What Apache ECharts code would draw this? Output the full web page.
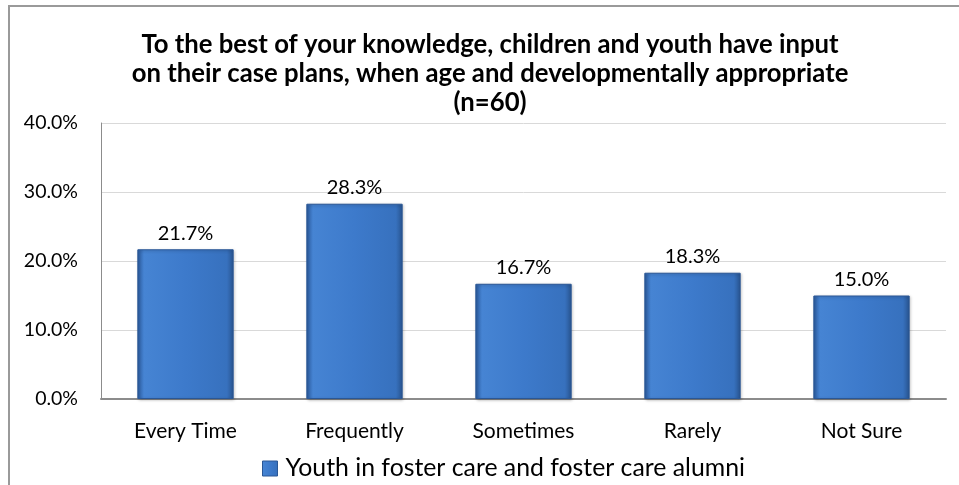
<!DOCTYPE html>
<html>
<head>
<meta charset="utf-8">
<script src="https://cdn.jsdelivr.net/npm/echarts@6/dist/echarts.min.js"></script>
<style>
  html, body { margin: 0; padding: 0; background: #ffffff; }
  #frame { position: absolute; left: 8px; top: 5px; width: 960px; height: 490px;
           border-left: 2px solid #9a9a9a; border-top: 2px solid #9a9a9a; box-sizing: border-box; }
  #chart { position: absolute; left: 0; top: 0; width: 959px; height: 485px; }
</style>
</head>
<body>
<div id="frame"></div>
<div id="chart"></div>
<script>
// Survey responses (percent of respondents)
const categories = ['Every Time', 'Frequently', 'Sometimes', 'Rarely', 'Not Sure'];
const youthValues = [21.7, 28.3, 16.7, 18.3, 15.0];
const seriesName = 'Youth in foster care and foster care alumni';
const titleLines = [
  'To the best of your knowledge, children and youth have input',
  'on their case plans, when age and developmentally appropriate',
  '(n=60)'
];
const yTicks = [0, 10, 20, 30, 40];

const FONT = 'Lato, "Open Sans", sans-serif';

const barFill = new echarts.graphic.LinearGradient(0, 0, 1, 0, [
  { offset: 0, color: '#2b5b9f' },
  { offset: 0.07, color: '#4684d3' },
  { offset: 0.5, color: '#3d7acb' },
  { offset: 0.93, color: '#3771be' },
  { offset: 1, color: '#28548f' }
]);

const chart = echarts.init(document.getElementById('chart'), null, { renderer: 'canvas' });
chart.setOption({
  animation: false,
  backgroundColor: 'transparent',
  title: {
    text: titleLines.join('\n'),
    left: 485,
    textAlign: 'center',
    top: 25,
    textStyle: {
      fontFamily: FONT, fontWeight: 'bold', fontSize: 25.7, color: '#000000', lineHeight: 29
    }
  },
  grid: { left: 101, right: 13, top: 123, bottom: 86, containLabel: false },
  legend: {
    data: [{ name: seriesName, itemStyle: { color: barFill, borderColor: '#2a5796', borderWidth: 1 } }],
    top: 456,
    left: 262,
    padding: 0,
    itemWidth: 15,
    itemHeight: 15,
    icon: 'rect',
    textStyle: { fontFamily: FONT, fontSize: 24.8, color: '#000000', padding: [0, 0, 0, 3] }
  },
  xAxis: {
    type: 'category',
    data: categories,
    axisLine: { show: true, lineStyle: { color: '#8c8c8c', width: 2 } },
    axisTick: { show: false },
    axisLabel: { fontFamily: FONT, fontSize: 21, color: '#000000', margin: 22 }
  },
  yAxis: {
    type: 'value',
    min: yTicks[0],
    max: yTicks[yTicks.length - 1],
    interval: 10,
    axisLine: { show: true, lineStyle: { color: '#8c8c8c', width: 1 } },
    axisTick: { show: false },
    splitLine: { lineStyle: { color: '#d9d9d9', width: 1 } },
    axisLabel: {
      fontFamily: FONT, fontSize: 19.5, color: '#000000', margin: 23,
      formatter: v => v.toFixed(1) + '%'
    }
  },
  series: [{
    name: seriesName,
    type: 'bar',
    data: youthValues,
    barWidth: '57%',
    itemStyle: {
      color: barFill,
      borderColor: '#2a5796',
      borderWidth: 1,
      shadowColor: 'rgba(0,0,0,0.25)',
      shadowBlur: 3,
      shadowOffsetX: 1,
      shadowOffsetY: 1
    },
    label: {
      show: true,
      position: 'top',
      distance: 6,
      fontFamily: FONT, fontSize: 20, color: '#000000',
      formatter: p => p.value.toFixed(1) + '%'
    }
  }]
});
</script>
</body>
</html>
